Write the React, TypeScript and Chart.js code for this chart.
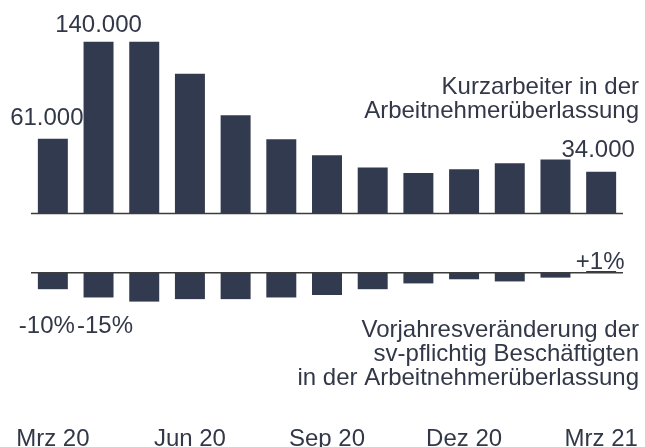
import React, { useEffect, useRef } from 'react';
import { Chart, registerables } from 'chart.js';

Chart.register(...registerables);

// ---- data ----
const months = ['Mrz 20', 'Apr 20', 'Mai 20', 'Jun 20', 'Jul 20', 'Aug 20', 'Sep 20', 'Okt 20', 'Nov 20', 'Dez 20', 'Jan 21', 'Feb 21', 'Mrz 21'];
const kurzarbeiter = [61000, 140000, 140000, 114000, 80000, 60500, 47500, 37500, 33000, 36000, 41000, 44000, 34000];
const vorjahr = [-10, -15, -17.5, -16, -16, -15, -13.5, -10, -6.5, -4, -5.3, -3, 1];
const kurzLabelIdx = [0, 1, 12];
const vorjahrLabelIdx = [0, 1, 12];
const kurzTitle = ['Kurzarbeiter in der', 'Arbeitnehmerüberlassung'];
const vorjahrTitle = ['Vorjahresveränderung der', 'sv-pflichtig Beschäftigten', 'in der Arbeitnehmerüberlassung'];

// ---- style ----
const BAR = '#313a4e';
const TEXT = '#323848';
const FAMILY = '"Liberation Sans", Arial, sans-serif';
const FONT = `24px ${FAMILY}`;
const topLabelOffset = [[-6, -14], [0, -10], [-3, -15]];
const botLabelOffset = [[-6, 60], [6.5, 60], [-1, -2]];

const fmtThousands = (v: number) => String(Math.round(v)).replace(/\B(?=(\d{3})+(?!\d))/g, '.');
const fmtPct = (v: number) => (v > 0 ? '+' : '') + Math.round(v) + '%';

const annotPlugin = {
  id: 'annot',
  afterDatasetsDraw(chart: any) {
    const { ctx, chartArea, scales } = chart;
    const y1 = scales.y;
    const y2 = scales.y2;
    const m0 = chart.getDatasetMeta(0);
    const m1 = chart.getDatasetMeta(1);
    const z1 = y1.getPixelForValue(0);
    const z2 = y2.getPixelForValue(0);
    ctx.save();
    ctx.strokeStyle = '#3c3c3c';
    ctx.lineWidth = 1.5;
    [z1, z2].forEach((py: number) => {
      ctx.beginPath();
      ctx.moveTo(chartArea.left + 1, py);
      ctx.lineTo(chartArea.right - 1, py);
      ctx.stroke();
    });
    ctx.font = FONT;
    ctx.fillStyle = TEXT;
    ctx.textBaseline = 'alphabetic';
    ctx.textAlign = 'center';
    kurzLabelIdx.forEach((i, k) => {
      const el = m0.data[i];
      const [dx, dy] = topLabelOffset[k];
      ctx.fillText(fmtThousands(kurzarbeiter[i]), el.x + dx, el.y + dy);
    });
    vorjahrLabelIdx.forEach((i, k) => {
      const el = m1.data[i];
      const [dx, dy] = botLabelOffset[k];
      const v = vorjahr[i];
      const y = v < 0 ? z2 + dy : el.y + dy;
      ctx.fillText(fmtPct(v), el.x + dx, y);
    });
    ctx.textAlign = 'right';
    const rx = chartArea.right + 15;
    kurzTitle.forEach((t, k) => ctx.fillText(t, rx, z1 - 120 + k * 24));
    vorjahrTitle.forEach((t, k) => ctx.fillText(t, rx, z2 + 64 + k * 24));
    ctx.restore();
  },
};

export default function App() {
  const ref = useRef<HTMLCanvasElement>(null);
  useEffect(() => {
    document.body.style.margin = '0';
    const canvas = ref.current;
    if (!canvas) return;
    const chart = new Chart(canvas, {
      type: 'bar',
      data: {
        labels: months,
        datasets: [
          { data: kurzarbeiter, yAxisID: 'y', backgroundColor: BAR, borderWidth: 0, grouped: false, barPercentage: 0.656, categoryPercentage: 1 } as any,
          { data: vorjahr, yAxisID: 'y2', backgroundColor: BAR, borderWidth: 0, grouped: false, barPercentage: 0.656, categoryPercentage: 1 } as any,
        ],
      },
      options: {
        responsive: false,
        animation: false,
        devicePixelRatio: 1,
        layout: { padding: { left: 30, right: 21, top: 0, bottom: -7 } },
        plugins: { legend: { display: false }, tooltip: { enabled: false } },
        scales: {
          x: {
            grid: { display: false, drawTicks: false },
            border: { display: false },
            ticks: {
              autoSkip: false,
              maxRotation: 0,
              minRotation: 0,
              padding: 3,
              color: TEXT,
              font: { family: FAMILY, size: 24, lineHeight: 1 },
              callback: (_v: any, i: number) => (i % 3 === 0 ? months[i] : ''),
            },
          },
          y: { display: false, min: -171570, max: 174021 },
          y2: { display: false, min: -91.5, max: 164.85 },
        },
      } as any,
      plugins: [annotPlugin],
    });
    return () => chart.destroy();
  }, []);
  return <canvas ref={ref} width={645} height={447} style={{ display: 'block' }} />;
}
